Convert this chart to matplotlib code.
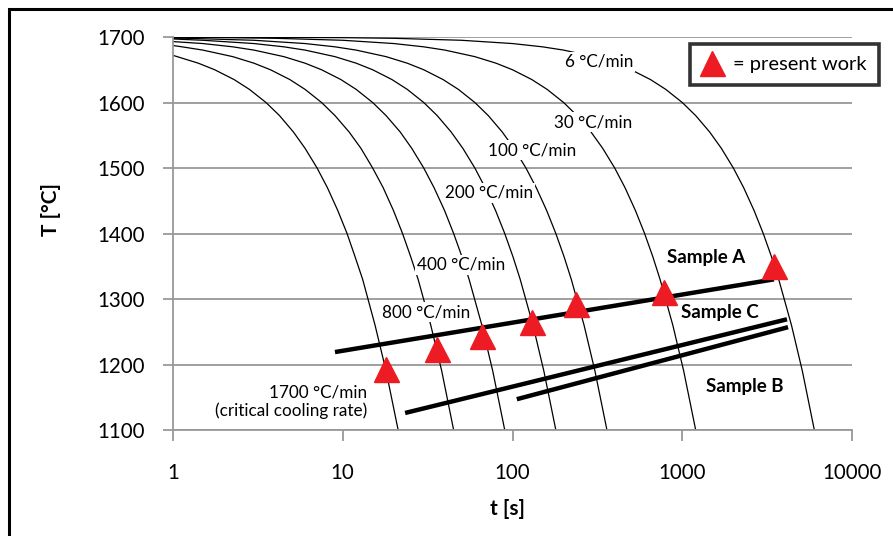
import matplotlib.pyplot as plt
import matplotlib.patches as mpatches
import numpy as np

plt.rcParams['font.family'] = ['Lato', 'DejaVu Sans']

# cooling curves: time [s] and temperature [degC]
rates = ['1700', '800', '400', '200', '100', '30', '6']
curve_t = {
    '1700': [1, 1.41, 1.76, 2.29, 2.82, 3.53, 4.24, 5.12, 6.0, 7.06, 8.12, 9.35,
             10.6, 11.8, 13.1, 15.5, 18.0, 21.2],
    '800': [1, 1.13, 1.5, 2.25, 3.0, 3.75, 4.88, 6.0, 7.5, 9.0, 10.9, 12.8, 15.0,
            17.3, 19.9, 22.5, 25.1, 27.8, 33.0, 38.3, 45.0],
    '400': [1, 1.5, 2.25, 3.0, 4.5, 6.0, 7.5, 9.75, 12, 15, 18, 21.8, 25.5, 30,
            34.5, 39.8, 45, 50.3, 55.5, 66, 76.5, 90],
    '200': [1, 1.5, 3, 4.5, 6, 9, 12, 15, 19.5, 24, 30, 36, 43.5, 51, 60, 69,
            79.5, 90, 100.5, 111, 132, 153, 180],
    '100': [1, 1.2, 3, 6, 9, 12, 18, 24, 30, 39, 48, 60, 72, 87, 102, 120, 138,
            159, 180, 201, 222, 264, 306, 360],
    '30': [1, 2, 4, 10, 20, 30, 40, 60, 80, 100, 130, 160, 200, 240, 290, 340,
           400, 460, 530, 600, 670, 740, 880, 1020, 1200],
    '6': [1, 10, 20, 50, 100, 150, 200, 300, 400, 500, 650, 800, 1000, 1200, 1450,
          1700, 2000, 2300, 2650, 3000, 3350, 3700, 4400, 5100, 6000],
}
curve_T = {
    '1700': [1672, 1660, 1650, 1635, 1620, 1600, 1580, 1555, 1530, 1500, 1470, 1435,
             1400, 1365, 1330, 1260, 1190, 1100],
    '800': [1687, 1685, 1680, 1670, 1660, 1650, 1635, 1620, 1600, 1580, 1555, 1530,
            1500, 1470, 1435, 1400, 1365, 1330, 1260, 1190, 1100],
    '400': [1693, 1690, 1685, 1680, 1670, 1660, 1650, 1635, 1620, 1600, 1580, 1555,
            1530, 1500, 1470, 1435, 1400, 1365, 1330, 1260, 1190, 1100],
    '200': [1697, 1695, 1690, 1685, 1680, 1670, 1660, 1650, 1635, 1620, 1600, 1580,
            1555, 1530, 1500, 1470, 1435, 1400, 1365, 1330, 1260, 1190, 1100],
    '100': [1698, 1698, 1695, 1690, 1685, 1680, 1670, 1660, 1650, 1635, 1620, 1600,
            1580, 1555, 1530, 1500, 1470, 1435, 1400, 1365, 1330, 1260, 1190, 1100],
    '30': [1699.5, 1699, 1698, 1695, 1690, 1685, 1680, 1670, 1660, 1650, 1635, 1620,
           1600, 1580, 1555, 1530, 1500, 1470, 1435, 1400, 1365, 1330, 1260, 1190, 1100],
    '6': [1699.9, 1699, 1698, 1695, 1690, 1685, 1680, 1670, 1660, 1650, 1635, 1620,
          1600, 1580, 1555, 1530, 1500, 1470, 1435, 1400, 1365, 1330, 1260, 1190, 1100],
}

# present work points
pw_t = [18, 35.7, 66, 130, 237, 776, 3450]
pw_T = [1193, 1223, 1243, 1265, 1292, 1310, 1350]

# sample lines (start, end)
sample_names = ['Sample A', 'Sample C', 'Sample B']
sample_t = [[9.0, 3470], [23.3, 4140], [106, 4200]]
sample_T = [[1219, 1330], [1126, 1269], [1147, 1257]]

fig = plt.figure(figsize=(8.93, 5.36), dpi=100)
ax = fig.add_axes([173/893, 1-430/536, (852-173)/893, (430-37)/536])

ax.set_xscale('log')
ax.set_xlim(1, 10000)
ax.set_ylim(1100, 1700)
ax.set_yticks(range(1100, 1701, 100))
ax.set_xticks([1, 10, 100, 1000, 10000])
ax.set_xticklabels(['1', '10', '100', '1000', '10000'])
ax.minorticks_off()

ax.yaxis.grid(True, color='#999999', lw=1.3)
ax.set_axisbelow(True)
for s in ['top', 'right']:
    ax.spines[s].set_visible(False)
for s in ['left', 'bottom']:
    ax.spines[s].set_color('#999999')
    ax.spines[s].set_linewidth(1.3)
ax.tick_params(axis='y', length=7, width=1.3, color='#999999', pad=13, labelsize=14.8)
ax.tick_params(axis='x', length=8, width=1.3, color='#999999', pad=16, labelsize=14.8)

for r in rates:
    ax.plot(curve_t[r], curve_T[r], color='black', lw=0.9, zorder=2)

for t, T in zip(sample_t, sample_T):
    ax.plot(t, T, color='black', lw=3.2, solid_capstyle='butt', zorder=3)

pw, = ax.plot(pw_t, pw_T, ls='none', marker='^', ms=18, color='#ed1c24',
              mec='#ed1c24', zorder=4)

# curve labels
box = dict(facecolor='white', edgecolor='none', pad=1.5)
lab_fs = 12.3
ax.text(323, 1662, '6 °C/min', ha='center', va='center', fontsize=lab_fs, bbox=box, zorder=5)
ax.text(298, 1570, '30 °C/min', ha='center', va='center', fontsize=lab_fs, bbox=box, zorder=5)
ax.text(130, 1527, '100 °C/min', ha='center', va='center', fontsize=lab_fs, bbox=box, zorder=5)
ax.text(72.7, 1462, '200 °C/min', ha='center', va='center', fontsize=lab_fs, bbox=box, zorder=5)
ax.text(49.7, 1352, '400 °C/min', ha='center', va='center', fontsize=lab_fs, bbox=box, zorder=5)
ax.text(30.9, 1280, '800 °C/min', ha='center', va='center', fontsize=lab_fs, bbox=box, zorder=5)
ax.text(13.9, 1143, '1700 °C/min\n(critical cooling rate)', ha='right', va='center',
        fontsize=lab_fs, multialignment='right', linespacing=1.1, zorder=5)

ax.text(1380, 1364, 'Sample A', ha='center', va='center', fontsize=13.5, fontweight='bold')
ax.text(1668, 1279, 'Sample C', ha='center', va='center', fontsize=13.5, fontweight='bold')
ax.text(2343, 1167, 'Sample B', ha='center', va='center', fontsize=13.5, fontweight='bold')

leg = ax.legend([pw], ['= present work'], loc='upper left',
                bbox_to_anchor=(690/893, 1-44/536), bbox_transform=fig.transFigure,
                fontsize=14.5, frameon=True, fancybox=False, handlelength=1.0,
                handletextpad=0.55, borderpad=0.6, borderaxespad=0, numpoints=1)
leg.get_frame().set_edgecolor('black')
leg.get_frame().set_linewidth(2.6)

fig.text(51/893, 1-209/536, 'T [°C]', rotation=90, ha='center', va='center',
         fontsize=15, fontweight='bold')
fig.text(507/893, 1-509/536, 't [s]', ha='center', va='center',
         fontsize=15, fontweight='bold')

# outer frame
fig.patches.append(mpatches.Rectangle((9/893, -0.1), 1.2, 1-9/536+0.1, fill=False,
                                      edgecolor='black', lw=2.2, transform=fig.transFigure))

fig.savefig('out.png', dpi=100)
